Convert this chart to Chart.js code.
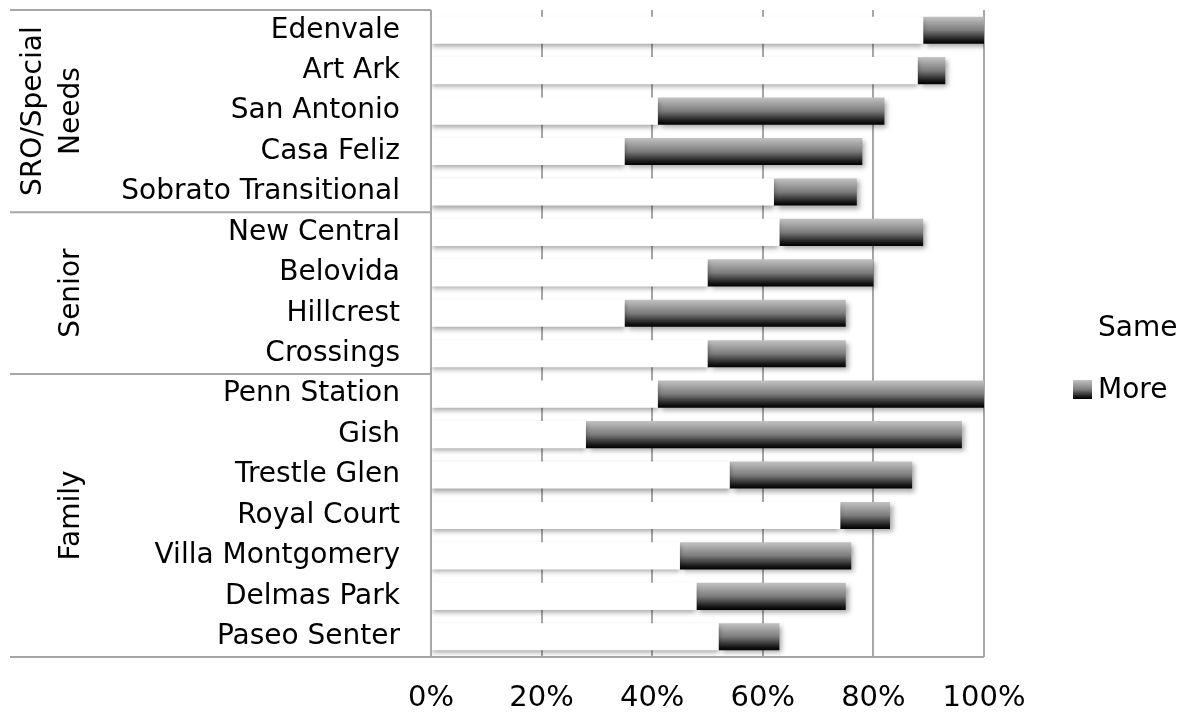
<!DOCTYPE html>
<html>
<head>
<meta charset="utf-8">
<script src="https://cdn.jsdelivr.net/npm/chart.js@4.4.1/dist/chart.umd.min.js"></script>
<style>
  html, body { margin: 0; padding: 0; background: #ffffff; }
  #wrap { width: 1182px; height: 717px; }
</style>
</head>
<body>
<div id="wrap"><canvas id="housingChart" width="1182" height="717"></canvas></div>
<script>
// data (percent)
const categories = [
    "Edenvale", "Art Ark", "San Antonio", "Casa Feliz", "Sobrato Transitional",
    "New Central", "Belovida", "Hillcrest", "Crossings",
    "Penn Station", "Gish", "Trestle Glen", "Royal Court", "Villa Montgomery", "Delmas Park", "Paseo Senter"
];
const sameValues = [89, 88, 41, 35, 62, 63, 50, 35, 50, 41, 28, 54, 74, 45, 48, 52];
const moreValues = [11, 5, 41, 43, 15, 26, 30, 40, 25, 59, 68, 33, 9, 31, 27, 11];
const seriesNames = ["Same", "More"];
const groupNames = [["SRO/Special", "Needs"], ["Senior"], ["Family"]];
const groupSizes = [5, 4, 7];

const FONT = "'DejaVu Sans', Verdana, sans-serif";
const BAR_PCT = 0.67;

function makeGradient(ctx, top, bottom) {
    const g = ctx.createLinearGradient(0, top, 0, bottom);
    g.addColorStop(0, "#c2c2c2");
    g.addColorStop(0.5, "#7c7c7c");
    g.addColorStop(0.88, "#161616");
    g.addColorStop(1, "#000000");
    return g;
}

// gradient per bar, positioned with the y scale
function moreFill(context) {
    const chart = context.chart;
    const yScale = chart.scales.y;
    if (!yScale || context.dataIndex === undefined) return "#555555";
    const band = Math.abs(yScale.getPixelForValue(1) - yScale.getPixelForValue(0));
    const c = yScale.getPixelForValue(context.dataIndex);
    if (!isFinite(band) || !isFinite(c) || band === 0) return "#555555";
    const half = band * BAR_PCT / 2;
    return makeGradient(chart.ctx, c - half, c + half);
}

const shadowPlugin = {
    id: "barShadow",
    beforeDatasetDraw(chart, args) {
        const ctx = chart.ctx;
        ctx.save();
        ctx.shadowColor = "rgba(0,0,0,0.35)";
        ctx.shadowBlur = 5;
        ctx.shadowOffsetX = args.index === 1 ? 3 : 0;
        ctx.shadowOffsetY = 3;
    },
    afterDatasetDraw(chart) {
        chart.ctx.restore();
    }
};

const groupPlugin = {
    id: "groupLabels",
    afterDatasetsDraw(chart) {
        const ctx = chart.ctx;
        const area = chart.chartArea;
        const yScale = chart.scales.y;
        const half = (yScale.getPixelForValue(1) - yScale.getPixelForValue(0)) / 2;

        function line(x1, y1, x2, y2) {
            ctx.beginPath();
            ctx.moveTo(x1, y1);
            ctx.lineTo(x2, y2);
            ctx.stroke();
        }

        ctx.save();
        ctx.strokeStyle = "#a6a6a6";
        ctx.lineWidth = 2;
        line(area.left, area.top, area.left, area.bottom);
        line(10, area.top, area.left, area.top);
        line(10, area.bottom, area.right, area.bottom);

        ctx.fillStyle = "#000000";
        ctx.font = "28px " + FONT;
        ctx.textAlign = "center";
        ctx.textBaseline = "middle";

        let start = 0;
        groupSizes.forEach(function (size, g) {
            const top = yScale.getPixelForValue(start) - half;
            const bottom = yScale.getPixelForValue(start + size - 1) + half;
            line(10, bottom, area.left, bottom);

            const lines = groupNames[g];
            ctx.save();
            ctx.translate(72, (top + bottom) / 2);
            ctx.rotate(-Math.PI / 2);
            lines.forEach(function (txt, i) {
                ctx.fillText(txt, 0, (i - (lines.length - 1)) * 38);
            });
            ctx.restore();
            start += size;
        });
        ctx.restore();
    }
};

const legendPlugin = {
    id: "sideLegend",
    afterDraw(chart) {
        const ctx = chart.ctx;
        const area = chart.chartArea;
        const boxX = area.right + 89;
        const box = 19;
        ctx.save();
        ctx.font = "28px " + FONT;
        ctx.textAlign = "left";
        ctx.textBaseline = "middle";
        chart.data.datasets.forEach(function (ds, i) {
            const y = chart.height / 2 + (i - 0.5) * 62;
            ctx.fillStyle = i === 1 ? makeGradient(ctx, y - box / 2, y + box / 2) : ds.backgroundColor;
            ctx.fillRect(boxX, y - box / 2, box, box);
            ctx.fillStyle = "#000000";
            ctx.fillText(ds.label, boxX + box + 6, y + 1);
        });
        ctx.restore();
    }
};

const ctx = document.getElementById("housingChart").getContext("2d");
const chartInstance = new Chart(ctx, {
    type: "bar",
    data: {
        labels: categories,
        datasets: [{
            label: seriesNames[0],
            data: sameValues,
            backgroundColor: "#ffffff",
            borderWidth: 0,
            barPercentage: BAR_PCT,
            categoryPercentage: 1
        },
        {
            label: seriesNames[1],
            data: moreValues,
            backgroundColor: moreFill,
            borderWidth: 0,
            barPercentage: BAR_PCT,
            categoryPercentage: 1
        }]
    },
    options: {
        indexAxis: "y",
        responsive: false,
        animation: false,
        layout: { padding: { top: 10, right: 198, bottom: 0, left: 0 } },
        plugins: {
            legend: { display: false },
            tooltip: { enabled: false }
        },
        scales: {
            x: {
                stacked: true,
                min: 0,
                max: 100,
                ticks: {
                    stepSize: 20,
                    callback: function (v) { return v + "%"; },
                    font: { family: FONT, size: 29 },
                    color: "#000000",
                    padding: 24,
                    maxRotation: 0
                },
                grid: { color: "#a6a6a6", lineWidth: 2, drawTicks: false },
                border: { display: false },
                afterFit: function (scale) {
                    scale.height = 60;
                    scale.paddingLeft = 0;
                    scale.paddingRight = 0;
                }
            },
            y: {
                stacked: true,
                ticks: {
                    font: { family: FONT, size: 28 },
                    color: "#000000",
                    padding: 31,
                    autoSkip: false
                },
                grid: { display: false, drawTicks: false },
                border: { display: false },
                afterFit: function (scale) {
                    scale.width = 431;
                    scale.paddingTop = 0;
                    scale.paddingBottom = 0;
                }
            }
        }
    },
    plugins: [shadowPlugin, groupPlugin, legendPlugin]
});
</script>
</body>
</html>
